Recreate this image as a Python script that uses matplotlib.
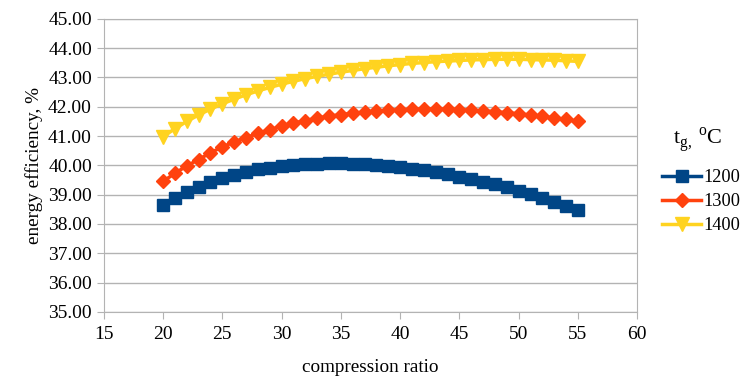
import matplotlib.pyplot as plt

plt.rcParams['font.family'] = ['Liberation Serif', 'DejaVu Serif']
plt.rcParams['mathtext.fontset'] = 'custom'
plt.rcParams['mathtext.rm'] = 'Liberation Serif'

# compression ratio values
ratio = list(range(20, 56))

# energy efficiency, % for each gas temperature
eff_1200 = [38.65, 38.88, 39.08, 39.26, 39.42, 39.56, 39.68, 39.78, 39.86, 39.92,
            39.97, 40.01, 40.04, 40.06, 40.07, 40.07, 40.05, 40.03, 40.00, 39.97,
            39.93, 39.88, 39.83, 39.77, 39.70, 39.62, 39.53, 39.44, 39.35, 39.25,
            39.14, 39.02, 38.89, 38.76, 38.61, 38.46]
eff_1300 = [39.45, 39.73, 39.98, 40.20, 40.43, 40.63, 40.80, 40.95, 41.09, 41.22,
            41.34, 41.44, 41.53, 41.61, 41.68, 41.73, 41.78, 41.82, 41.85, 41.88,
            41.90, 41.91, 41.92, 41.92, 41.91, 41.90, 41.88, 41.86, 41.83, 41.80,
            41.76, 41.72, 41.67, 41.62, 41.57, 41.50]
eff_1400 = [40.98, 41.25, 41.50, 41.72, 41.92, 42.10, 42.26, 42.41, 42.54, 42.66,
            42.77, 42.87, 42.96, 43.04, 43.11, 43.18, 43.24, 43.30, 43.35, 43.40,
            43.44, 43.48, 43.51, 43.54, 43.56, 43.58, 43.60, 43.61, 43.62, 43.62,
            43.62, 43.61, 43.60, 43.59, 43.57, 43.55]

xticks = list(range(15, 61, 5))
yticks = list(range(35, 46))
labels = ['1200', '1300', '1400']
colors = ['#004586', '#ff420e', '#ffd320']

fig = plt.figure(figsize=(7.41, 3.78), dpi=100)
ax = fig.add_axes([0.140, 0.175, 0.720, 0.775])

ax.plot(ratio, eff_1200, color=colors[0], marker='s', markersize=9, lw=2.5, label=labels[0])
ax.plot(ratio, eff_1300, color=colors[1], marker='D', markersize=7, lw=2.5, label=labels[1])
ax.plot(ratio, eff_1400, color=colors[2], marker='v', markersize=10, lw=2.5, label=labels[2])

ax.set_xlim(15, 60)
ax.set_ylim(35, 45)
ax.set_xticks(xticks)
ax.set_xticklabels([str(v) for v in xticks], fontsize=14)
ax.set_yticks(yticks)
ax.set_yticklabels([f'{v:.2f}' for v in yticks], fontsize=14)
ax.tick_params(color='#b3b3b3', length=5)
ax.tick_params(axis='x', pad=5)
ax.grid(axis='y', color='#b3b3b3', lw=1)
ax.set_axisbelow(True)
for s in ax.spines.values():
    s.set_color('#b3b3b3')

ax.set_xlabel('compression ratio', fontsize=13.8, labelpad=12)
ax.set_ylabel('energy efficiency, %', fontsize=13.8, labelpad=4)

fig.text(0.941, 0.630, r't$_{\rm g,}\,^{\rm o}$C', fontsize=16, ha='center', va='center')
fig.legend(loc='upper left', bbox_to_anchor=(0.884, 0.572), frameon=False,
           fontsize=13.2, handlelength=2.1, handletextpad=0.15, labelspacing=0.38,
           borderaxespad=0)

fig.savefig('out.png', dpi=100)
